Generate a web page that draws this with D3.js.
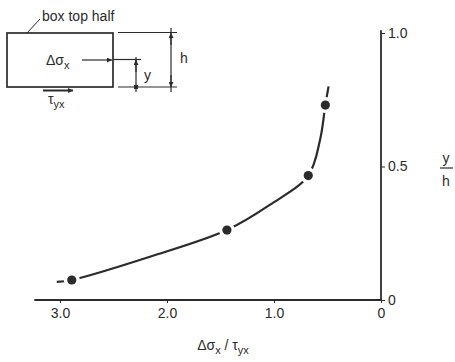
<!DOCTYPE html>
<html>
<head>
<meta charset="utf-8">
<script src="https://cdn.jsdelivr.net/npm/d3@7"></script>
<style>
  body { margin: 0; background: #fff; }
  svg text { font-family: "Liberation Sans", "DejaVu Sans", sans-serif; fill: #2b2b2b; }
</style>
</head>
<body>
<script>
// measured points (dots) : x = Δσx/τyx, y = y/h
const pointRatio = [2.89, 1.44, 0.68, 0.52];
const pointDepth = [0.075, 0.262, 0.466, 0.73];
// the drawn curve (runs a little past the end dots)
const curveRatio = [3.03, 2.89, 2.16, 1.44, 1.04, 0.68, 0.57, 0.52, 0.49];
const curveDepth = [0.068, 0.075, 0.162, 0.262, 0.356, 0.466, 0.599, 0.73, 0.80];
const xTicks = [3, 2, 1, 0];
const yTicks = [0, 0.5, 1];

const width = 455, height = 362;
const ink = '#2b2b2b';

const svg = d3.select('body').append('svg')
  .attr('width', width)
  .attr('height', height);

// 比例尺: x axis runs right to left
const x = d3.scaleLinear().domain([0, 3]).range([381, 60]);
const y = d3.scaleLinear().domain([0, 1]).range([300, 33]);

// x axis
const xAxis = d3.axisBottom(x)
  .tickValues(xTicks)
  .tickSize(3)
  .tickPadding(5)
  .tickFormat(d => d === 0 ? '0' : d3.format('.1f')(d));

const xg = svg.append('g')
  .attr('transform', `translate(0,${y(0)})`)
  .call(xAxis);
xg.select('.domain').remove();
xg.selectAll('line').attr('stroke', ink);
xg.selectAll('text').attr('font-size', 14).attr('fill', ink);

svg.append('line')
  .attr('x1', x(3.24)).attr('x2', x(0))
  .attr('y1', y(0)).attr('y2', y(0))
  .attr('stroke', ink).attr('stroke-width', 1.8);

// y axis
const yAxis = d3.axisRight(y)
  .tickValues(yTicks)
  .tickSize(4)
  .tickPadding(3)
  .tickFormat(d => d === 0 ? '0' : d3.format('.1f')(d));

const yg = svg.append('g')
  .attr('transform', `translate(${x(0)},0)`)
  .call(yAxis);
yg.select('.domain').remove();
yg.selectAll('line').attr('stroke', ink);
yg.selectAll('text').attr('font-size', 14).attr('fill', ink);

svg.append('line')
  .attr('x1', x(0)).attr('x2', x(0))
  .attr('y1', y(0)).attr('y2', y(1.01))
  .attr('stroke', ink).attr('stroke-width', 1.8);

// axis titles
const xt = svg.append('text')
  .attr('x', 223).attr('y', 350)
  .attr('text-anchor', 'middle')
  .attr('font-size', 14);
xt.append('tspan').text('Δσ');
xt.append('tspan').attr('font-size', 11).attr('dy', 4).text('x');
xt.append('tspan').attr('dy', -4).text(' / τ');
xt.append('tspan').attr('font-size', 11).attr('dy', 4).text('yx');

svg.append('text').attr('x', 446).attr('y', 163)
  .attr('text-anchor', 'middle').attr('font-size', 14).text('y');
svg.append('line').attr('x1', 440).attr('x2', 453)
  .attr('y1', 168).attr('y2', 168).attr('stroke', ink).attr('stroke-width', 1.2);
svg.append('text').attr('x', 446).attr('y', 186)
  .attr('text-anchor', 'middle').attr('font-size', 14).text('h');

// curve
const curveData = curveRatio.map((r, i) => [r, curveDepth[i]]);
const line = d3.line()
  .x(d => x(d[0]))
  .y(d => y(d[1]))
  .curve(d3.curveCatmullRom.alpha(0.5));

svg.append('path')
  .datum(curveData)
  .attr('d', line)
  .attr('fill', 'none')
  .attr('stroke', ink)
  .attr('stroke-width', 2.2);

// dots, a white halo leaves the small gap in the curve
const dots = svg.append('g');
dots.selectAll('.halo')
  .data(pointRatio)
  .enter()
  .append('circle')
  .attr('class', 'halo')
  .attr('cx', d => x(d))
  .attr('cy', (d, i) => y(pointDepth[i]))
  .attr('r', 8)
  .attr('fill', '#fff');
dots.selectAll('.dot')
  .data(pointRatio)
  .enter()
  .append('circle')
  .attr('class', 'dot')
  .attr('cx', d => x(d))
  .attr('cy', (d, i) => y(pointDepth[i]))
  .attr('r', 4.6)
  .attr('fill', ink);

// inset sketch: box top half
const defs = svg.append('defs');
defs.append('marker')
  .attr('id', 'arr')
  .attr('viewBox', '0 0 10 10')
  .attr('refX', 10).attr('refY', 5)
  .attr('markerWidth', 7).attr('markerHeight', 5)
  .attr('markerUnits', 'userSpaceOnUse')
  .attr('orient', 'auto')
  .append('path')
  .attr('d', 'M0,0L10,5L0,10z')
  .attr('fill', ink);

const inset = svg.append('g')
  .attr('stroke', ink)
  .attr('fill', 'none');

inset.append('rect')
  .attr('x', 7).attr('y', 33)
  .attr('width', 106).attr('height', 54)
  .attr('stroke-width', 1.7);

// leader to label
inset.append('line').attr('x1', 27).attr('y1', 33).attr('x2', 40).attr('y2', 19).attr('stroke-width', 1);

// extension lines for h
inset.append('line').attr('x1', 118).attr('x2', 177).attr('y1', 32.5).attr('y2', 32.5).attr('stroke-width', 1.2);
inset.append('line').attr('x1', 118).attr('x2', 177).attr('y1', 87).attr('y2', 87).attr('stroke-width', 1.2);
inset.append('line').attr('x1', 171).attr('x2', 171).attr('y1', 28).attr('y2', 92).attr('stroke-width', 1.2);
inset.append('line').attr('x1', 171).attr('x2', 171).attr('y1', 45).attr('y2', 33)
  .attr('marker-end', 'url(#arr)').attr('stroke-width', 1.2);
inset.append('line').attr('x1', 171).attr('x2', 171).attr('y1', 75).attr('y2', 87)
  .attr('marker-end', 'url(#arr)').attr('stroke-width', 1.2);

// Δσx arrow and y dimension
inset.append('line').attr('x1', 82).attr('x2', 112).attr('y1', 60).attr('y2', 60)
  .attr('marker-end', 'url(#arr)').attr('stroke-width', 1.2);
inset.append('line').attr('x1', 113).attr('x2', 141).attr('y1', 59.5).attr('y2', 59.5).attr('stroke-width', 1.2);
inset.append('line').attr('x1', 136).attr('x2', 136).attr('y1', 57).attr('y2', 92).attr('stroke-width', 1.2);
inset.append('line').attr('x1', 136).attr('x2', 136).attr('y1', 72).attr('y2', 60)
  .attr('marker-end', 'url(#arr)').attr('stroke-width', 1.2);
inset.append('rect').attr('x', 134).attr('y', 85).attr('width', 4).attr('height', 4)
  .attr('fill', ink).attr('stroke', 'none');

// τyx arrow under box
inset.append('line').attr('x1', 43).attr('x2', 73).attr('y1', 90.5).attr('y2', 90.5)
  .attr('marker-end', 'url(#arr)').attr('stroke-width', 2);

svg.append('text').attr('x', 42).attr('y', 21).attr('font-size', 14).text('box top half');

const ds = svg.append('text').attr('x', 46).attr('y', 65).attr('font-size', 14);
ds.append('tspan').text('Δσ');
ds.append('tspan').attr('font-size', 11).attr('dy', 4).text('x');

svg.append('text').attr('x', 144).attr('y', 80).attr('font-size', 14).text('y');
svg.append('text').attr('x', 180).attr('y', 63).attr('font-size', 14).text('h');

const tau = svg.append('text').attr('x', 48).attr('y', 104).attr('font-size', 14);
tau.append('tspan').text('τ');
tau.append('tspan').attr('font-size', 11).attr('dy', 4).text('yx');
</script>
</body>
</html>
